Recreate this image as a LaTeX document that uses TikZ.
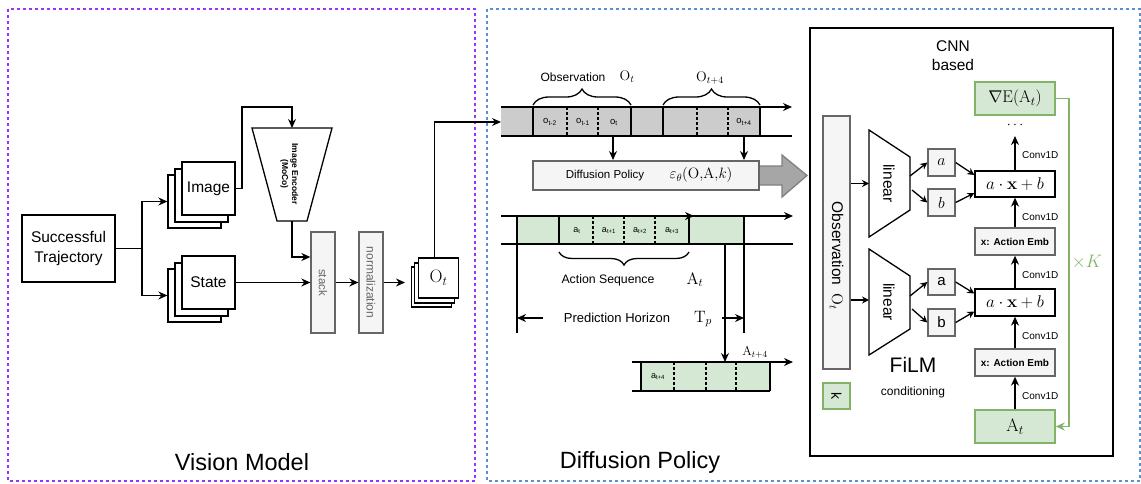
\RequirePackage{fix-cm}
\documentclass[tikz,border=0pt]{standalone}
\usepackage[no-math]{fontspec}
\setmainfont{Liberation Sans}
\usepackage{graphicx}
\usetikzlibrary{arrows.meta,decorations.pathreplacing,calc}

\definecolor{purpleframe}{HTML}{9933FF}
\definecolor{blueframe}{HTML}{5B8FD0}
\definecolor{boxgray}{HTML}{F5F5F5}
\definecolor{edgegray}{HTML}{666666}
\definecolor{obsgray}{HTML}{CCCCCC}
\definecolor{greenfill}{HTML}{D5E8D4}
\definecolor{greenedge}{HTML}{82B366}
\definecolor{arrowgray}{HTML}{A6A6A6}
\definecolor{arrowedge}{HTML}{808080}

\newcommand\fsz[2]{\fontsize{#1}{#2}\selectfont}

\tikzset{
  plainbox/.style={draw, fill=white, line width=1.3pt, inner sep=0pt},
  graybox/.style={draw=edgegray, fill=boxgray, line width=1.3pt, inner sep=0pt},
  greenbox/.style={draw=greenedge, fill=greenfill, line width=1.5pt, inner sep=0pt},
  arr/.style={-{Stealth[length=9pt,width=8pt]}, line width=1.3pt},
  sarr/.style={-{Stealth[length=7pt,width=7pt]}, line width=1.3pt},
  tl/.style={line width=1.3pt},
  tldash/.style={line width=1.3pt, dash pattern=on 3pt off 2pt},
  txt/.style={inner sep=0pt},
}

\begin{document}
\begin{tikzpicture}[x=1pt,y=-1pt]
\useasboundingbox (0,0) rectangle (1141,483);

% ---------------- frames ----------------
\draw[purpleframe, line width=1.3pt, dash pattern=on 3pt off 3pt] (8,9) rectangle (475,481);
\draw[blueframe, line width=1.3pt, dash pattern=on 3pt off 3pt] (487,9) rectangle (1140,481);
\node[txt] (vmlabel) at (242,462) {\fsz{23.5}{28}Vision Model};
\node[txt] (dplabel) at (640,462) {\fsz{23.5}{28}Diffusion Policy};

% ---------------- vision model ----------------
\node[plainbox, minimum width=93, minimum height=67, align=center, font=\fsz{15.5}{20}] (traj) at (68.5,248.5)
  {Successful\\Trajectory};
\coordinate (junc) at (142,248.5);

\node[plainbox, minimum width=53, minimum height=53] (img2) at (194.5,201.5) {};
\node[plainbox, minimum width=53, minimum height=53] (img1) at (201.5,195.5) {};
\node[plainbox, minimum width=53, minimum height=53] (img) at (208.5,188.5) {\fsz{15.5}{18}Image};

\node[plainbox, minimum width=53, minimum height=53] (st2) at (194.5,295.5) {};
\node[plainbox, minimum width=53, minimum height=53] (st1) at (201.5,289.5) {};
\node[plainbox, minimum width=53, minimum height=53] (st) at (208.5,282.5) {\fsz{15.5}{18}State};

\draw[tl] (traj.east) -- (junc);
\draw[arr] (junc) |- (img2.west);
\draw[arr] (junc) |- (st2.west);

% image encoder
\draw[line width=1.3pt, fill=white] (252,128) -- (332,128) -- (307,221) -- (277,221) -- cycle;
\coordinate (enctop) at (292,128);
\coordinate (encbot) at (292,221);
\coordinate (encturn) at (242,107);
\node[txt] (enclabel) at (289,174)
  {\rotatebox{-90}{\fsz{8.5}{10}\bfseries\begin{tabular}{@{}c@{}}Image Encoder\\(MoCo)\end{tabular}}};
\draw[arr] (img.east) -| (encturn) -| (enctop);

\node[graybox, minimum width=24, minimum height=101] (stack) at (323,282.5)
  {\rotatebox{-90}{\color{edgegray}\fsz{11.5}{14}stack}};
\node[graybox, minimum width=24, minimum height=101] (norm) at (371,282.5)
  {\rotatebox{-90}{\color{edgegray}\fsz{12}{14}normalization}};

\draw[arr] (encbot) |- (stack.west |- 0,257);
\draw[arr] (st.east) -- (stack.west);
\draw[arr] (stack.east) -- (norm.west);

\node[plainbox, minimum width=40, minimum height=40] (ot2) at (431.5,287) {};
\node[plainbox, minimum width=40, minimum height=40] (ot1) at (434.5,283) {};
\node[plainbox, minimum width=40, minimum height=40] (ot) at (438.5,278) {\fsz{18}{20}$\mathrm{O}_t$};
\draw[arr] (norm.east) -- (405,282.5);

% ---------------- observation timeline ----------------
\coordinate (obsin) at (501,122);
\fill[obsgray] (501,107) rectangle (760,136);
\draw[arr] ($(ot.north)+(-4,0)$) |- (obsin);
\draw[arr] (501,107) -- (792,107);
\draw[tl] (501,136) -- (792,136);
\foreach \x in {533,631,663,760} \draw[tl] (\x,107) -- (\x,136);
\foreach \x in {567,598,697,728} \draw[tldash] (\x,107) -- (\x,136);
\node[txt] (o1) at (550,122) {\fsz{9.5}{11}o\textsubscript{t-2}};
\node[txt] (o2) at (583,122) {\fsz{9.5}{11}o\textsubscript{t-1}};
\node[txt] (o3) at (614,122) {\fsz{9.5}{11}o\textsubscript{t}};
\node[txt] (o4) at (744,122) {\fsz{9.5}{11}o\textsubscript{t+4}};
\draw[line width=1.3pt, decorate, decoration={brace, amplitude=16pt}] (533,105) -- (631,105);
\draw[line width=1.3pt, decorate, decoration={brace, amplitude=16pt}] (663,105) -- (760,105);
\node[txt] (obstxt) at (573,77) {\fsz{12}{14}Observation};
\node[txt] (obsot) at (627,77) {\fsz{14}{16}$\mathrm{O}_t$};
\node[txt] (obsot4) at (710,78) {\fsz{14}{16}$\mathrm{O}_{t+4}$};

% diffusion policy block
\node[draw=edgegray, fill=boxgray, line width=2pt, minimum width=226, minimum height=29, inner sep=0pt] (dp) at (646,175.5) {};
\node[txt] (dptxt) at (605,176) {\fsz{11.5}{14}Diffusion Policy};
\node[txt] (dpeps) at (701,175) {\fsz{15}{17}$\varepsilon_\theta(\mathrm{O}{,}\mathrm{A}{,}k)$};
\draw[arr] (613,136) -- (613,0 |- dp.north);
\draw[arr] (744,136) -- (744,0 |- dp.north);
\draw[draw=arrowedge, fill=arrowgray, line width=1.3pt]
  (dp.east |- 0,166) -- (782,166) -- (782,155) -- (807,175.5) -- (782,197) -- (782,185) -- (dp.east |- 0,185);

% ---------------- action timeline ----------------
\fill[greenfill] (517,216) rectangle (744,244);
\draw[arr] (501,216) -- (793,216);
\draw[arr] (559,216) -- (694,216);
\draw[tl] (501,244) -- (793,244);
\draw[tl] (517,216) -- (517,333);
\draw[tl] (744,216) -- (744,333);
\foreach \x in {559,689} \draw[tl] (\x,216) -- (\x,244);
\foreach \x in {593,624,655} \draw[tldash] (\x,216) -- (\x,244);
\node[txt] (a0) at (577,231) {\fsz{9}{11}a\textsubscript{t}};
\node[txt] (a1) at (609,231) {\fsz{9}{11}a\textsubscript{t+1}};
\node[txt] (a2) at (640,231) {\fsz{9}{11}a\textsubscript{t+2}};
\node[txt] (a3) at (672,231) {\fsz{9}{11}a\textsubscript{t+3}};
\draw[line width=1.3pt, decorate, decoration={brace, amplitude=13pt, mirror}] (559,252) -- (689,252);
\node[txt] (actseq) at (608,280) {\fsz{12.3}{14}Action Sequence};
\node[txt] (actat) at (695,280) {\fsz{16.5}{18}$\mathrm{A}_t$};
\node[txt] (predh) at (617,318) {\fsz{13}{15}Prediction Horizon};
\node[txt] (predtp) at (703,319) {\fsz{16.5}{18}$\mathrm{T}_p$};
\draw[arr] (543,318) -- (517,318);
\draw[arr] (722,318) -- (744,318);
\draw[arr] (725,244) -- (725,362);
\node[txt] (at4) at (755,352) {\fsz{13}{15}$\mathrm{A}_{t+4}$};

\fill[greenfill] (641,362) rectangle (770,391);
\draw[arr] (632,362) -- (793,362);
\draw[tl] (632,391) -- (770,391);
\foreach \x in {641,770} \draw[tl] (\x,362) -- (\x,391);
\foreach \x in {674,706,736} \draw[tldash] (\x,362) -- (\x,391);
\node[txt] (a4) at (658,377) {\fsz{9}{11}a\textsubscript{t+4}};

% ---------------- CNN based denoiser ----------------
\node[draw, line width=1.3pt, minimum width=303, minimum height=428, inner sep=0pt] (cnn) at (961.5,242) {};
\node[txt, align=center, font=\fsz{15.5}{19}] (cnntxt) at (953,56) {CNN\\based};

\node[greenbox, minimum width=80, minimum height=33] (grad) at (1015,98.5)
  {\fsz{17}{19}$\nabla\mathrm{E}(\mathrm{A}_t)$};
\node[txt] (dots) at (1015,125) {\fsz{14}{16}$\cdots$};
\node[plainbox, minimum width=80, minimum height=26] (film1) at (1015,184) {\fsz{17}{19}$a\cdot\mathbf{x}+b$};
\node[graybox, minimum width=80, minimum height=27] (emb1) at (1015,241.5) {\fsz{10}{12}\bfseries x: Action Emb};
\node[plainbox, minimum width=80, minimum height=27] (film2) at (1015,302.5) {\fsz{17}{19}$a\cdot\mathbf{x}+b$};
\node[graybox, minimum width=80, minimum height=27] (emb2) at (1015,362.5) {\fsz{10}{12}\bfseries x: Action Emb};
\node[greenbox, minimum width=80, minimum height=33] (act) at (1015,426.5) {\fsz{18}{20}$\mathrm{A}_t$};

\draw[arr] (act.north) -- (emb2.south);
\draw[arr] (emb2.north) -- (film2.south);
\draw[arr] (film2.north) -- (emb1.south);
\draw[arr] (emb1.north) -- (film1.south);
\draw[arr] (film1.north) -- (1015,136);
\foreach \y/\n in {396/c1,336/c2,275/c3,217/c4,155/c5}
  \node[txt, anchor=west] (\n) at (1022,\y) {\fsz{10}{12}Conv1D};

\coordinate (loopc) at (1069,98.5);
\draw[greenedge, line width=1.3pt, -{Stealth[length=9pt,width=8pt]}] (grad.east) -- (loopc) |- (act.east);
\node[txt, text=greenedge] (timesk) at (1087,262) {\fsz{18}{20}$\times K$};

\node[graybox, minimum width=27, minimum height=253] (obs) at (836.5,242.5) {};
\node[txt] (obstext) at (836.5,256) {\rotatebox{-90}{\fsz{15.5}{18}Observation\ \ $\mathrm{O}_t$}};
\node[greenbox, minimum width=27, minimum height=26] (kbox) at (836.5,396) {\rotatebox{-90}{\fsz{14}{16}k}};

% linear (FiLM generators)
\draw[line width=1.3pt, fill=white] (869,130) -- (910,157) -- (910,210) -- (869,237) -- cycle;
\draw[line width=1.3pt, fill=white] (869,249) -- (910,276) -- (910,329) -- (869,355) -- cycle;
\node[txt] (lin1) at (889,183.5) {\rotatebox{-90}{\fsz{15.5}{18}linear}};
\node[txt] (lin2) at (889,302) {\rotatebox{-90}{\fsz{15.5}{18}linear}};
\coordinate (lin1in) at (869,183.5);
\coordinate (lin2in) at (869,300);
\draw[sarr] (obs.east |- lin1in) -- (lin1in);
\draw[sarr] (obs.east |- lin2in) -- (lin2in);

\node[graybox, minimum width=27, minimum height=27] (pa1) at (941.5,162.5) {\fsz{16}{18}$a$};
\node[graybox, minimum width=27, minimum height=27] (pb1) at (941.5,202.5) {\fsz{16}{18}$b$};
\node[graybox, minimum width=27, minimum height=26] (pa2) at (941.5,282) {\fsz{15}{18}a};
\node[graybox, minimum width=27, minimum height=27] (pb2) at (941.5,322.5) {\fsz{15}{18}b};

\draw[sarr] (910,176) -- (pa1.west);
\draw[sarr] (912,190) -- (pb1.west);
\draw[sarr] (910,296) -- (pa2.west);
\draw[sarr] (912,309) -- (pb2.west);
\draw[sarr] (pa1.east) -- ($(film1.west)+(0,-9)$);
\draw[sarr] (pb1.east) -- ($(film1.west)+(0,9)$);
\draw[sarr] (pa2.east) -- ($(film2.west)+(0,-9)$);
\draw[sarr] (pb2.east) -- ($(film2.west)+(0,9)$);

\node[txt] (filmtxt) at (913,365) {\fsz{21}{24}FiLM};
\node[txt] (condtxt) at (913,392) {\fsz{12}{14}conditioning};

\end{tikzpicture}
\end{document}
